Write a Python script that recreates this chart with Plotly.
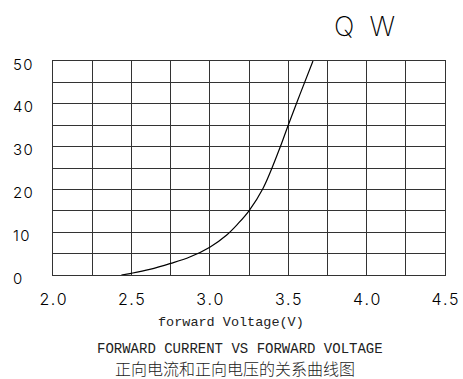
import plotly.graph_objects as go

# Forward voltage (V) vs forward current (mA) readings
voltage = [2.436, 2.5, 2.617, 2.75, 2.872, 3.0, 3.106, 3.18, 3.25,
           3.339, 3.446, 3.5, 3.575, 3.658]
current = [0.0, 0.4, 1.3, 2.7, 4.2, 6.5, 9.3, 12.0, 15.0,
           20.2, 29.6, 35.0, 42.2, 50.0]

x_ticks = [2.0, 2.5, 3.0, 3.5, 4.0, 4.5]
x_tick_labels = ["2.0", "2.5", "3.0", "3.5", "4.0", "4.5"]
y_ticks = [0, 10, 20, 30, 40, 50]
y_tick_labels = ["0", "10", "20", "30", "40", "50"]

title_text = "Q W"
x_title = "forward Voltage(V)"
caption_en = "FORWARD CURRENT VS FORWARD VOLTAGE"
caption_cn = "正向电流和正向电压的关系曲线图"

HAIR = "\u200a"
THIN_FAMILY = "Inter"


def spaced(s):
    return HAIR.join(s)


cad_font = dict(family=THIN_FAMILY, size=16, color="#000", weight=300)
grid_color = "#333333"

fig = go.Figure()
fig.add_trace(go.Scatter(
    x=voltage, y=current, mode="lines",
    line=dict(color="#000", width=1.2, shape="spline", smoothing=1.0),
    hoverinfo="skip", showlegend=False,
))

fig.update_xaxes(
    range=[2.0, 4.5], tickvals=x_ticks, ticktext=[spaced(t) for t in x_tick_labels],
    tickfont=cad_font, showgrid=True, gridcolor=grid_color, gridwidth=1,
    minor=dict(dtick=0.25, tick0=2.0, showgrid=True, gridcolor=grid_color, gridwidth=1),
    showline=True, linecolor=grid_color, linewidth=1, mirror=True,
    zeroline=False, ticks="", ticklabelstandoff=10, fixedrange=True, automargin=False,
)
fig.update_yaxes(
    range=[0, 50], tickvals=y_ticks, showticklabels=False,
    showgrid=True, gridcolor=grid_color, gridwidth=1,
    minor=dict(dtick=5, tick0=0, showgrid=True, gridcolor=grid_color, gridwidth=1),
    showline=True, linecolor=grid_color, linewidth=1, mirror=True,
    zeroline=False, ticks="", fixedrange=True, automargin=False,
)

annotations = []
for v, t in zip(y_ticks, y_tick_labels):
    annotations.append(dict(
        x=-0.106, xref="paper", y=v, yref="y", text=spaced(t),
        xanchor="left", yanchor="middle", yshift=-3, showarrow=False,
        font=dict(family=THIN_FAMILY, size=15, color="#000", weight=300),
    ))

annotations += [
    dict(x=0.795, y=1.162, xref="paper", yref="paper", text=title_text.replace(" ", "  "),
         showarrow=False, xanchor="center", yanchor="middle",
         font=dict(family=THIN_FAMILY, size=27, color="#000", weight=200)),
    dict(x=0.454, y=-0.224, xref="paper", yref="paper", text=x_title,
         showarrow=False, xanchor="center", yanchor="middle",
         font=dict(family="Liberation Mono", size=13.5, color="#222")),
    dict(x=0.477, y=-0.345, xref="paper", yref="paper", text=caption_en,
         showarrow=False, xanchor="center", yanchor="middle",
         font=dict(family="Liberation Mono", size=14, color="#222")),
    dict(x=0.465, y=-0.434, xref="paper", yref="paper", text=caption_cn,
         showarrow=False, xanchor="center", yanchor="middle",
         font=dict(family="Noto Sans CJK SC", size=16, color="#222", weight=300)),
]

fig.update_layout(
    width=463, height=379,
    margin=dict(l=53, r=18, t=61, b=104, autoexpand=False),
    paper_bgcolor="white", plot_bgcolor="white",
    annotations=annotations,
)

fig.write_html("out.html", config={"displayModeBar": False})
